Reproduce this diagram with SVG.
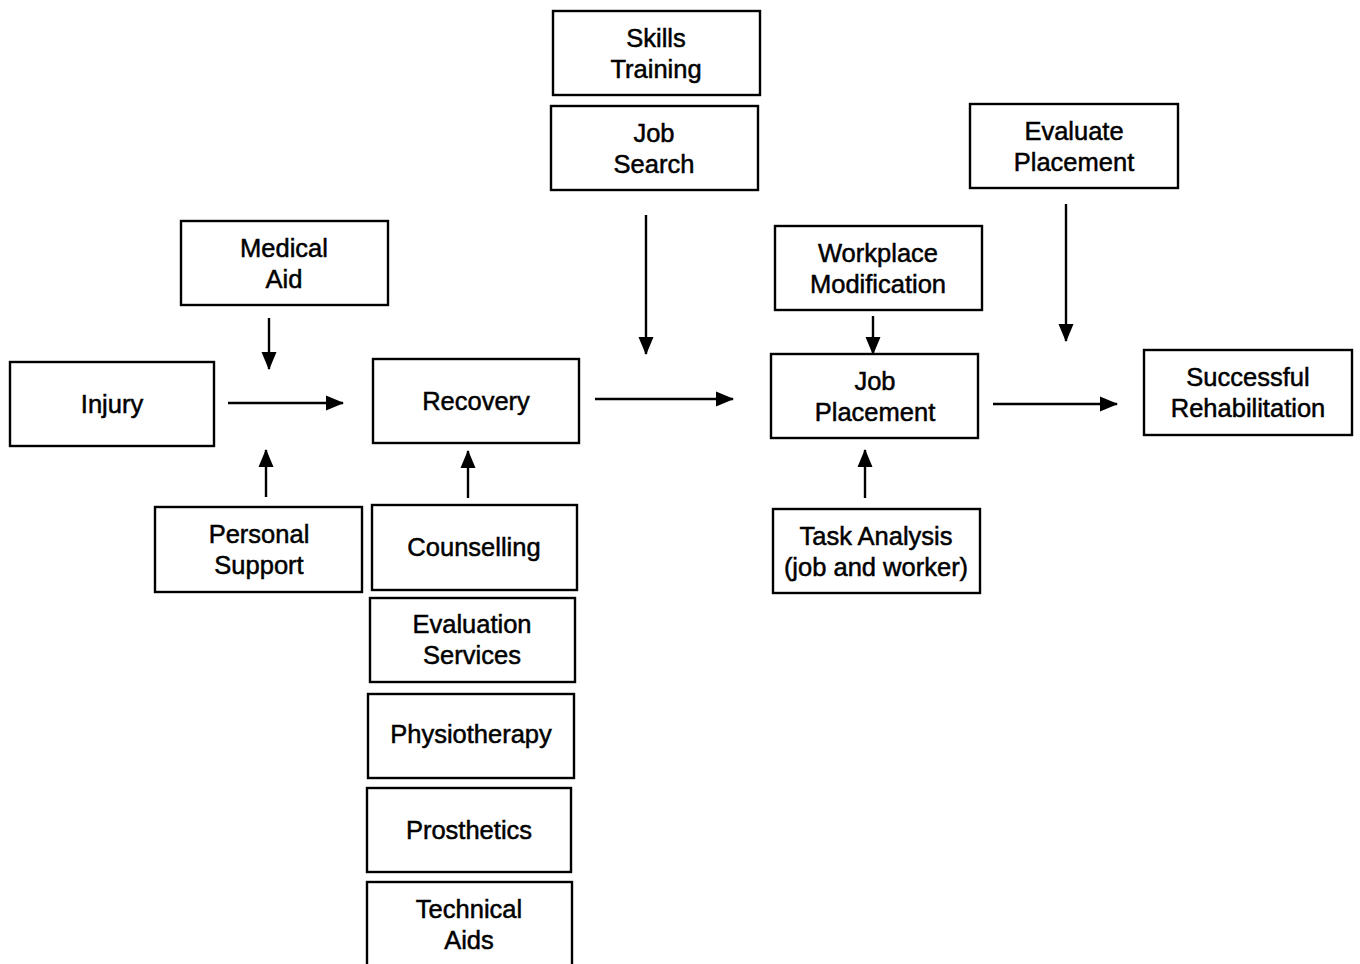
<svg xmlns="http://www.w3.org/2000/svg" width="1360" height="964" viewBox="0 0 1360 964">
  <style>
    .box { fill: #fff; stroke: #000; stroke-width: 2.4; }
    .lbl { font-family: "Liberation Sans", Arial, sans-serif; font-size: 25.5px; fill: #000; stroke: #000; stroke-width: 0.5; text-anchor: middle; }
    .edge { stroke: #000; stroke-width: 2.4; fill: none; marker-end: url(#arrow); }
  </style>
  <defs>
    <marker id="arrow" markerWidth="18" markerHeight="16" refX="17" refY="8" orient="auto" markerUnits="userSpaceOnUse">
      <path d="M0,0.5 L18,8 L0,15.5 Z" fill="#000"/>
    </marker>
  </defs>
  <rect width="1360" height="964" fill="#fff"/>

  <g id="skills-training">
    <rect class="box" x="553" y="11" width="207" height="84"/>
    <text class="lbl" x="656" y="47">Skills</text>
    <text class="lbl" x="656" y="78">Training</text>
  </g>
  <g id="job-search">
    <rect class="box" x="551" y="106" width="207" height="84"/>
    <text class="lbl" x="654" y="142">Job</text>
    <text class="lbl" x="654" y="173">Search</text>
  </g>
  <g id="evaluate-placement">
    <rect class="box" x="970" y="104" width="208" height="84"/>
    <text class="lbl" x="1074" y="140">Evaluate</text>
    <text class="lbl" x="1074" y="171">Placement</text>
  </g>
  <g id="medical-aid">
    <rect class="box" x="181" y="221" width="207" height="84"/>
    <text class="lbl" x="284" y="257">Medical</text>
    <text class="lbl" x="284" y="288">Aid</text>
  </g>
  <g id="workplace-modification">
    <rect class="box" x="775" y="226" width="207" height="84"/>
    <text class="lbl" x="878" y="262">Workplace</text>
    <text class="lbl" x="878" y="293">Modification</text>
  </g>
  <g id="injury">
    <rect class="box" x="10" y="362" width="204" height="84"/>
    <text class="lbl" x="112" y="413">Injury</text>
  </g>
  <g id="recovery">
    <rect class="box" x="373" y="359" width="206" height="84"/>
    <text class="lbl" x="476" y="410">Recovery</text>
  </g>
  <g id="job-placement">
    <rect class="box" x="771" y="354" width="207" height="84"/>
    <text class="lbl" x="875" y="390">Job</text>
    <text class="lbl" x="875" y="421">Placement</text>
  </g>
  <g id="successful-rehabilitation">
    <rect class="box" x="1144" y="350" width="208" height="85"/>
    <text class="lbl" x="1248" y="386">Successful</text>
    <text class="lbl" x="1248" y="417">Rehabilitation</text>
  </g>
  <g id="personal-support">
    <rect class="box" x="155" y="507" width="207" height="85"/>
    <text class="lbl" x="259" y="543">Personal</text>
    <text class="lbl" x="259" y="574">Support</text>
  </g>
  <g id="counselling">
    <rect class="box" x="372" y="505" width="205" height="85"/>
    <text class="lbl" x="474" y="556">Counselling</text>
  </g>
  <g id="task-analysis">
    <rect class="box" x="773" y="509" width="207" height="84"/>
    <text class="lbl" x="876" y="545">Task Analysis</text>
    <text class="lbl" x="876" y="576">(job and worker)</text>
  </g>
  <g id="evaluation-services">
    <rect class="box" x="370" y="598" width="205" height="84"/>
    <text class="lbl" x="472" y="633">Evaluation</text>
    <text class="lbl" x="472" y="664">Services</text>
  </g>
  <g id="physiotherapy">
    <rect class="box" x="368" y="694" width="206" height="84"/>
    <text class="lbl" x="471" y="743">Physiotherapy</text>
  </g>
  <g id="prosthetics">
    <rect class="box" x="367" y="788" width="204" height="84"/>
    <text class="lbl" x="469" y="839">Prosthetics</text>
  </g>
  <g id="technical-aids">
    <rect class="box" x="367" y="882" width="205" height="90"/>
    <text class="lbl" x="469" y="918">Technical</text>
    <text class="lbl" x="469" y="949">Aids</text>
  </g>

  <g id="connectors">
    <line class="edge" x1="269" y1="318" x2="269" y2="369"/>
    <line class="edge" x1="228" y1="403" x2="343" y2="403"/>
    <line class="edge" x1="266" y1="497" x2="266" y2="450"/>
    <line class="edge" x1="468" y1="498" x2="468" y2="451"/>
    <line class="edge" x1="595" y1="399" x2="733" y2="399"/>
    <line class="edge" x1="646" y1="215" x2="646" y2="354"/>
    <line class="edge" x1="873" y1="316" x2="873" y2="354"/>
    <line class="edge" x1="1066" y1="204" x2="1066" y2="341"/>
    <line class="edge" x1="865" y1="498" x2="865" y2="450"/>
    <line class="edge" x1="993" y1="404" x2="1117" y2="404"/>
  </g>
</svg>
